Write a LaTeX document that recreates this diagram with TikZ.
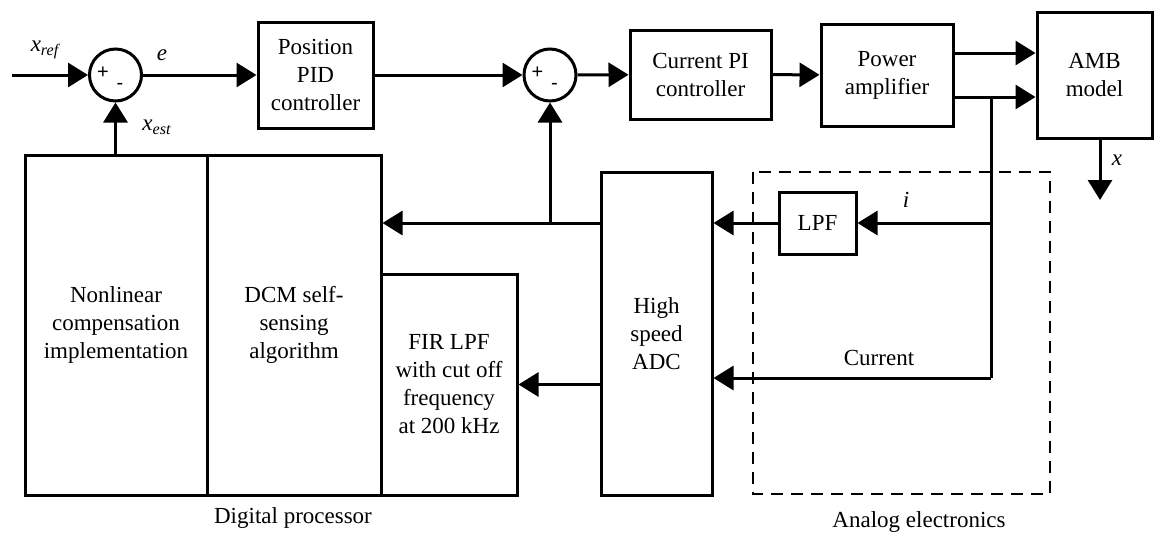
\documentclass[tikz,border=0pt]{standalone}
\usepackage{fontspec}
\newfontfamily\tnr{Liberation Serif}
\newfontfamily\arl{Liberation Sans}
\usetikzlibrary{arrows.meta}
\begin{document}
\begin{tikzpicture}[x=0.5pt,y=-0.5pt,
    every node/.style={font=\tnr\fontsize{11.5}{14}\selectfont},
    blk/.style={draw,line width=1.5pt,align=center,inner sep=0pt},
    sum/.style={draw,circle,line width=1.5pt,minimum size=26pt,inner sep=0pt},
    sgn/.style={font=\arl\fontsize{10}{10}\selectfont,inner sep=0pt},
    sig/.style={line width=1.5pt,-{Triangle[length=10pt,width=12pt]}},
    wire/.style={line width=1.5pt}]
  \useasboundingbox (0,0) rectangle (1155,536);

  % forward path
  \coordinate (xin) at (12,75);
  \node[sum] (s1) at (115.5,75) {};
  \node[sgn] (s1p) at (103,73) {+};
  \node[sgn] (s1m) at (120,86) {-};
  \node[blk,minimum width=57.5pt,minimum height=53pt] (pid) at (315.5,75) {Position\\PID\\controller};
  \node[sum] (s2) at (550,75) {};
  \node[sgn] (s2p) at (537.5,73) {+};
  \node[sgn] (s2m) at (554.5,86) {-};
  \node[blk,minimum width=70.5pt,minimum height=44.5pt] (pi) at (700.5,74.5) {Current PI\\controller};
  \node[blk,minimum width=66pt,minimum height=51pt] (pa) at (887,75) {Power\\amplifier};
  \node[blk,minimum width=57.5pt,minimum height=63pt] (amb) at (1094.5,75) {AMB\\model};

  % processor and electronics
  \node[blk,minimum width=91pt,minimum height=170pt] (nl) at (116,325) {Nonlinear\\compensation\\implementation};
  \node[blk,minimum width=87pt,minimum height=170pt] (dcm) at (294,325) {DCM self-\\sensing\\algorithm};
  \node[blk,minimum width=68pt,minimum height=110.5pt] (fir) at (449,384.5) {FIR LPF\\with cut off\\frequency\\at 200 kHz};
  \node[blk,minimum width=55.5pt,minimum height=161.5pt] (adc) at (656.5,333.5) {High\\speed\\ADC};
  \node[blk,minimum width=38.5pt,minimum height=31pt] (lpf) at (817.5,223) {LPF};
  \draw[dashed,dash pattern=on 6pt off 4pt,line width=0.75pt] (753,172) rectangle (1050,494);

  \coordinate (br) at (991,97);
  \coordinate (tap) at (991,223);
  \coordinate (cur) at (991,378);
  \coordinate (fb) at (550,223);
  \coordinate (xout) at (1100,200);

  \draw[sig] (xin) -- (s1.west);
  \draw[sig] (s1) -- (pid);
  \draw[sig] (pid) -- (s2);
  \draw[sig] (s2) -- (pi);
  \draw[sig] (pi) -- (pa);
  \draw[sig] ([yshift=11pt]pa.east) -- ([yshift=11pt]amb.west);
  \draw[sig] (pa.east |- br) -- (amb.west |- br);
  \draw[sig] (amb.south -| xout) -- (xout);
  \draw[wire] (br) -- (cur);
  \draw[sig] (tap) -- (lpf.east);
  \draw[sig] (cur) -- (adc.east |- cur);
  \draw[sig] (lpf.west) -- (adc.east |- lpf);
  \draw[sig] (adc.west |- lpf) -- (dcm.east |- lpf);
  \draw[sig] (fb) -- (s2.south);
  \draw[sig] (adc.west |- fir) -- (fir.east);
  \draw[sig] (nl.north -| s1) -- (s1.south);

  % labels
  \node (lxref) at (45,50) {\textit{x\textsubscript{ref}}};
  \node (le) at (162,55) {\textit{e}};
  \node (lxest) at (157,127) {\textit{x\textsubscript{est}}};
  \node (li) at (906,200) {\textit{i}};
  \node (lx) at (1117,160) {\textit{x}};
  \node (lcur) at (879,358) {Current};
  \node (ldig) at (293,518) {Digital processor};
  \node (lana) at (919,522) {Analog electronics};
\end{tikzpicture}
\end{document}
